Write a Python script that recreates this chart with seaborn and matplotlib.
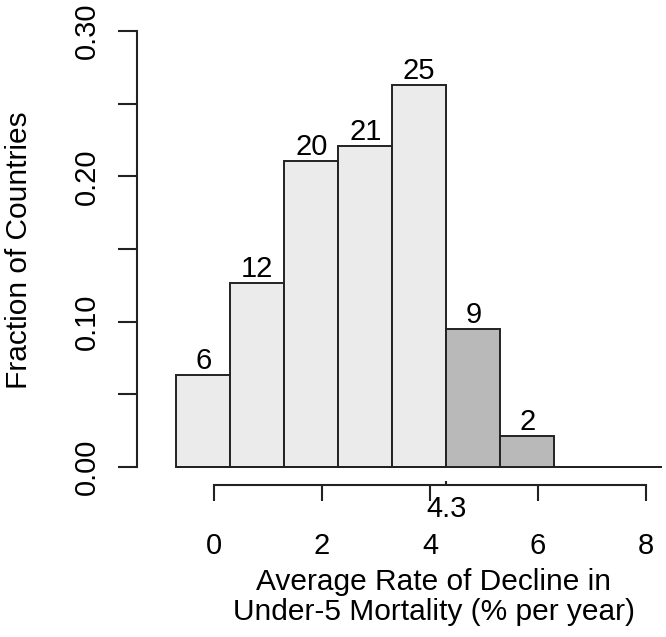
import numpy as np
import pandas as pd
import seaborn as sns
import matplotlib.pyplot as plt

# histogram bins (% per year) and country counts per bin
edges = [-0.7, 0.3, 1.3, 2.3, 3.3, 4.3, 5.3, 6.3, 7.3, 8.3]
counts = [6, 12, 20, 21, 25, 9, 2, 0, 0]
threshold = 4.3
x_ticks = [0, 2, 4, 6, 8]
y_ticks = [0.00, 0.10, 0.20, 0.30]
y_minor_ticks = [0.05, 0.15, 0.25]
y_tick_labels = ["0.00", "0.10", "0.20", "0.30"]

sns.set_theme(style="white")
plt.rcParams["font.family"] = ["Liberation Sans", "DejaVu Sans"]

total = sum(counts)
df = pd.DataFrame({
    "mid": [(a + b) / 2 for a, b in zip(edges[:-1], edges[1:])],
    "frac": [c / total for c in counts],
    "count": counts,
})
below = df[df["mid"] < threshold]
above = df[df["mid"] >= threshold]

W, H = 666, 637
fig = plt.figure(figsize=(W / 100, H / 100), dpi=100)
ax = fig.add_axes([137 / W, (H - 500) / H, 529 / W, 480 / H])

edge_col = "#222222"
sns.histplot(data=below, x="mid", weights="frac", bins=edges, color="#ebebeb",
             alpha=1, edgecolor=edge_col, linewidth=1.4, ax=ax)
sns.histplot(data=above, x="mid", weights="frac", bins=edges, color="#b9b9b9",
             alpha=1, edgecolor=edge_col, linewidth=1.4, ax=ax)

for m, f, c in zip(df["mid"], df["frac"], df["count"]):
    if c > 0:
        ax.annotate(str(int(c)), (m, f), xytext=(0, 0),
                    textcoords="offset points", ha="center", va="bottom",
                    fontsize=21, color="black")

ax.set_xlim(-1.426, 8.37)
ax.set_ylim(-0.0227, 0.3076)

for s in ["top", "right"]:
    ax.spines[s].set_visible(False)
ax.spines["left"].set_bounds(0, 0.30)
ax.spines["bottom"].set_position(("data", -0.0124))
ax.spines["bottom"].set_bounds(0, 8)
for s in ["left", "bottom"]:
    ax.spines[s].set_color(edge_col)
    ax.spines[s].set_linewidth(1.5)

ax.set_yticks(y_ticks)
ax.set_yticks(y_minor_ticks, minor=True)
ax.set_yticklabels(y_tick_labels, rotation=90, va="center")
ax.set_xticks(x_ticks)
ax.set_xticks([threshold], minor=True)
ax.set_xticklabels(["4.3"], minor=True)

ax.tick_params(axis="y", which="both", left=True, direction="out", length=13.7,
               width=1.5, pad=12, labelsize=21, color=edge_col, labelcolor="black")
ax.tick_params(axis="x", which="major", bottom=True, direction="out", length=11.5,
               width=1.5, pad=22, labelsize=21, color=edge_col, labelcolor="black")
ax.tick_params(axis="x", which="minor", bottom=True, direction="in", length=3,
               width=1.5, pad=7, labelsize=21, color=edge_col, labelcolor="black")

ax.set_ylabel("Fraction of Countries", fontsize=21.5, color="black")
ax.yaxis.set_label_coords(-0.197, 0.521)
ax.set_xlabel("Average Rate of Decline in\nUnder-5 Mortality (% per year)",
              fontsize=21.5, color="black", linespacing=1.1)
ax.xaxis.set_label_coords(0.561, -0.142)

fig.savefig("out.png", dpi=100)
